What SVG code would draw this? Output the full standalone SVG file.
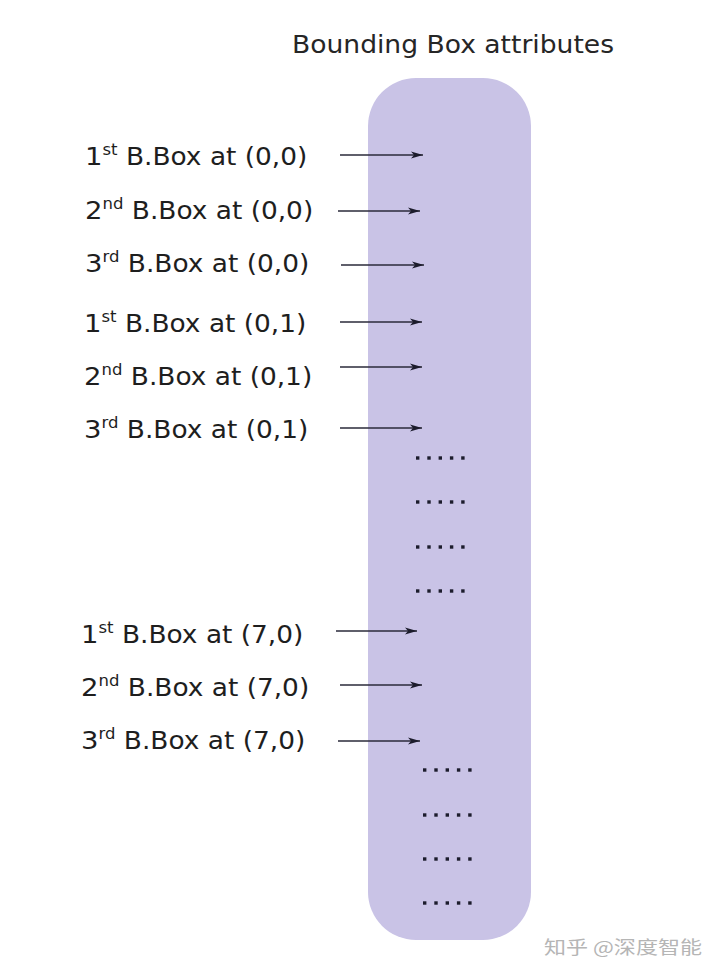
<svg xmlns="http://www.w3.org/2000/svg" width="720" height="978" viewBox="0 0 720 978">
<defs>
<marker id="ah" markerWidth="13" markerHeight="8" refX="12" refY="4" orient="auto" markerUnits="userSpaceOnUse">
<path d="M0,0.4 L12,4 L0,7.6 L3,4 Z" fill="#1c1c2c"/>
</marker>
<style>
.lbl{font-family:"DejaVu Sans","Liberation Sans",sans-serif;font-size:24px;fill:#1e1e1e}
.num{font-size:25px}
.sup{font-size:15px}
.ttl{font-family:"DejaVu Sans","Liberation Sans",sans-serif;font-size:24px;fill:#262626}
.arr{stroke:#2a2a3a;stroke-width:1.3;fill:none;marker-end:url(#ah)}
.dot{fill:#1c1c2c}
.wm{font-family:"Noto Sans CJK SC",sans-serif;font-size:18px;fill:#b5b5b5}
</style>
<g id="dots5">
<rect x="0" y="-1.7" width="3.4" height="3.4"/>
<rect x="11.3" y="-1.7" width="3.4" height="3.4"/>
<rect x="22.6" y="-1.7" width="3.4" height="3.4"/>
<rect x="33.9" y="-1.7" width="3.4" height="3.4"/>
<rect x="45.2" y="-1.7" width="3.4" height="3.4"/>
</g>
</defs>
<rect width="720" height="978" fill="#ffffff"/>
<g id="title"><text class="ttl" x="292" y="53" textLength="322" lengthAdjust="spacingAndGlyphs">Bounding Box attributes</text></g>
<g id="attr-box"><rect x="368" y="78" width="163" height="862" rx="48" ry="48" fill="#c9c3e6"/></g>
<g id="labels">
<g id="l1" transform="translate(85,165) scale(1.1,1)"><text class="lbl"><tspan class="num">1</tspan><tspan class="sup" dy="-10">st</tspan><tspan dy="10"> B.Box at (0,0)</tspan></text></g>
<g id="l2" transform="translate(85,219) scale(1.1,1)"><text class="lbl"><tspan class="num">2</tspan><tspan class="sup" dy="-10">nd</tspan><tspan dy="10"> B.Box at (0,0)</tspan></text></g>
<g id="l3" transform="translate(85,272) scale(1.1,1)"><text class="lbl"><tspan class="num">3</tspan><tspan class="sup" dy="-10">rd</tspan><tspan dy="10"> B.Box at (0,0)</tspan></text></g>
<g id="l4" transform="translate(84,332) scale(1.1,1)"><text class="lbl"><tspan class="num">1</tspan><tspan class="sup" dy="-10">st</tspan><tspan dy="10"> B.Box at (0,1)</tspan></text></g>
<g id="l5" transform="translate(84,385) scale(1.1,1)"><text class="lbl"><tspan class="num">2</tspan><tspan class="sup" dy="-10">nd</tspan><tspan dy="10"> B.Box at (0,1)</tspan></text></g>
<g id="l6" transform="translate(84,438) scale(1.1,1)"><text class="lbl"><tspan class="num">3</tspan><tspan class="sup" dy="-10">rd</tspan><tspan dy="10"> B.Box at (0,1)</tspan></text></g>
<g id="l7" transform="translate(81,643) scale(1.1,1)"><text class="lbl"><tspan class="num">1</tspan><tspan class="sup" dy="-10">st</tspan><tspan dy="10"> B.Box at (7,0)</tspan></text></g>
<g id="l8" transform="translate(81,696) scale(1.1,1)"><text class="lbl"><tspan class="num">2</tspan><tspan class="sup" dy="-10">nd</tspan><tspan dy="10"> B.Box at (7,0)</tspan></text></g>
<g id="l9" transform="translate(81,749) scale(1.1,1)"><text class="lbl"><tspan class="num">3</tspan><tspan class="sup" dy="-10">rd</tspan><tspan dy="10"> B.Box at (7,0)</tspan></text></g>
</g>
<g id="connectors">
<line class="arr" x1="340" y1="155" x2="423" y2="155"/>
<line class="arr" x1="338" y1="211" x2="420" y2="211"/>
<line class="arr" x1="341" y1="265" x2="424" y2="265"/>
<line class="arr" x1="340" y1="322" x2="422" y2="322"/>
<line class="arr" x1="340" y1="367" x2="422" y2="367"/>
<line class="arr" x1="340" y1="428" x2="422" y2="428"/>
<line class="arr" x1="336" y1="631" x2="417" y2="631"/>
<line class="arr" x1="340" y1="685" x2="422" y2="685"/>
<line class="arr" x1="338" y1="741" x2="420" y2="741"/>
</g>
<g id="ellipses" class="dot">
<use href="#dots5" x="416" y="458"/>
<use href="#dots5" x="416" y="502"/>
<use href="#dots5" x="416" y="547"/>
<use href="#dots5" x="416" y="591"/>
<use href="#dots5" x="423" y="770"/>
<use href="#dots5" x="423" y="815"/>
<use href="#dots5" x="423" y="859"/>
<use href="#dots5" x="423" y="903"/>
</g>
<g id="watermark"><text class="wm" x="544" y="954" textLength="158" lengthAdjust="spacingAndGlyphs">知乎 @深度智能</text></g>
</svg>
